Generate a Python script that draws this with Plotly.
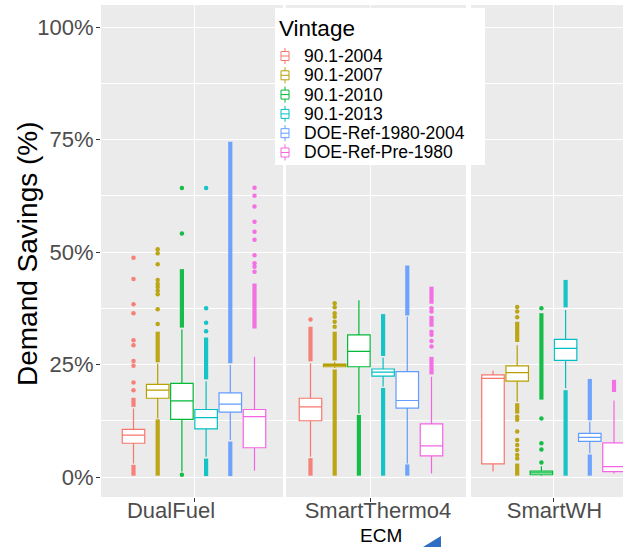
import plotly.graph_objects as go

W, H = 623, 547

vintages = ["90.1-2004", "90.1-2007", "90.1-2010", "90.1-2013",
            "DOE-Ref-1980-2004", "DOE-Ref-Pre-1980"]
colors = ["#F8766D", "#B79F00", "#00BA38", "#00BFC4", "#619CFF", "#F564E3"]
ecms = ["DualFuel", "SmartThermo4", "SmartWH"]

# box statistics (demand savings, %) per ECM, ordered by vintage
lower_whisker = {
    "DualFuel":     [3.0, 13.0, 1.2, 4.5, 8.2, 1.4],
    "SmartThermo4": [4.5, 24.2, 14.1, 20.1, 3.0, 0.8],
    "SmartWH":      [1.2, 16.7, 0.3, 19.7, 5.3, 0.8],
}
q1 = {
    "DualFuel":     [7.5, 17.5, 12.8, 10.7, 14.4, 6.5],
    "SmartThermo4": [12.5, 24.5, 24.5, 22.4, 15.3, 4.7],
    "SmartWH":      [2.9, 21.3, 0.5, 25.9, 7.9, 1.2],
}
median = {
    "DualFuel":     [9.3, 19.3, 16.9, 13.2, 16.2, 13.4],
    "SmartThermo4": [15.6, 24.8, 27.9, 23.3, 17.0, 6.9],
    "SmartWH":      [21.9, 23.2, 0.9, 28.6, 8.8, 2.3],
}
q3 = {
    "DualFuel":     [10.6, 20.6, 20.8, 15.0, 18.7, 15.0],
    "SmartThermo4": [17.5, 25.1, 31.6, 24.0, 23.4, 11.8],
    "SmartWH":      [22.7, 24.7, 1.3, 30.6, 9.7, 7.6],
}
upper_whisker = {
    "DualFuel":     [15.2, 25.2, 32.8, 21.3, 24.9, 26.7],
    "SmartThermo4": [25.3, 25.6, 39.3, 26.5, 35.6, 22.3],
    "SmartWH":      [23.6, 29.3, 2.4, 37.1, 12.3, 17.0],
}

# dense runs of outliers (low, high) that read as solid columns
outlier_runs = {
    "DualFuel": [
        [[0.3, 2.7], [15.6, 17.6]],
        [[0.3, 12.8], [25.5, 32.3]],
        [[33.2, 46.2]],
        [[0.2, 4.1], [21.7, 31.0]],
        [[0.2, 7.9], [25.3, 74.5]],
        [[33.0, 43.0]],
    ],
    "SmartThermo4": [
        [[0.3, 4.2], [25.7, 33.4]],
        [[0.3, 23.9], [25.9, 32.3]],
        [[0.3, 13.8]],
        [[0.3, 19.8], [26.9, 36.2]],
        [[0.3, 2.8], [35.9, 47.0]],
        [[22.8, 26.7], [33.4, 35.8], [38.5, 42.3]],
    ],
    "SmartWH": [
        [],
        [[0.3, 3.0], [14.1, 16.4], [30.0, 34.5]],
        [[17.2, 36.4]],
        [[0.3, 19.3], [37.7, 43.8]],
        [[0.3, 5.0], [12.6, 21.8]],
        [[18.9, 21.6]],
    ],
}
# isolated outliers
outlier_points = {
    "DualFuel": [
        [19.3, 21.0, 24.7, 25.8, 29.3, 30.4, 36.4, 38.4, 44.0, 48.7],
        [34.0, 37.3, 40.6, 41.4, 42.2, 42.9, 43.8, 47.3, 49.7, 50.6],
        [0.5, 54.1, 64.2],
        [32.4, 34.3, 37.5, 64.2],
        [],
        [45.6, 46.7, 47.5, 49.3, 52.7, 54.5, 56.7, 60.1, 62.5, 64.3],
    ],
    "SmartThermo4": [
        [35.0],
        [33.4, 34.5, 35.6, 36.4, 37.7, 38.6],
        [],
        [],
        [],
        [29.0, 30.2, 31.6, 32.3, 36.8, 37.5],
    ],
    "SmartWH": [
        [],
        [4.1, 4.9, 6.0, 7.1, 8.2, 10.1, 12.7, 13.4, 35.5, 36.8, 37.8],
        [3.2, 6.1, 7.5, 13.0, 37.5],
        [],
        [],
        [],
    ],
}

y_ticks = [0, 25, 50, 75, 100]
y_tick_labels = ["0%", "25%", "50%", "75%", "100%"]

FONT = "Liberation Sans, Arial, sans-serif"


def px(x):
    return x / W


def py(y):
    return 1 - y / H


# facet panels: pixel extents and x ranges (vintage index 0..5 per facet)
panels = [
    dict(x0=101, x1=283, rng=[-1.343, 6.178], shift=-23),
    dict(x0=286, x1=466, rng=[-1.012, 6.426], shift=7),
    dict(x0=471, x1=623, rng=[-0.909, 5.372], shift=1),
]
ydom = [py(497), py(5)]
yrange = [-4.44, 104.89]

fig = go.Figure()

for k, ecm in enumerate(ecms):
    xa = "x" if k == 0 else f"x{k+1}"
    ya = "y" if k == 0 else f"y{k+1}"
    for i, v in enumerate(vintages):
        c = colors[i]
        xs, ys = [], []
        for lo, hi in outlier_runs[ecm][i]:
            xs += [i, i, None]
            ys += [lo, hi, None]
        if xs:
            fig.add_trace(go.Scatter(x=xs, y=ys, mode="lines",
                                     line=dict(color=c, width=4.2),
                                     opacity=0.9, xaxis=xa, yaxis=ya,
                                     showlegend=False, hoverinfo="skip"))
        pts = outlier_points[ecm][i]
        if pts:
            fig.add_trace(go.Scatter(x=[i] * len(pts), y=pts, mode="markers",
                                     marker=dict(color=c, size=4.5, line=dict(width=0)),
                                     opacity=0.9, xaxis=xa, yaxis=ya,
                                     showlegend=False, hoverinfo="skip"))
        fig.add_trace(go.Box(
            x=[i], q1=[q1[ecm][i]], median=[median[ecm][i]], q3=[q3[ecm][i]],
            lowerfence=[lower_whisker[ecm][i]], upperfence=[upper_whisker[ecm][i]],
            width=0.93, fillcolor="white", line=dict(color=c, width=1.2),
            whiskerwidth=0, boxpoints=False, name=v,
            xaxis=xa, yaxis=ya, showlegend=False))

layout = dict(
    width=W, height=H,
    margin=dict(l=0, r=0, t=0, b=0),
    paper_bgcolor="white", plot_bgcolor="#EBEBEB",
    font=dict(family=FONT, color="#4D4D4D"),
    showlegend=False,
)

for k, ecm in enumerate(ecms):
    p = panels[k]
    xkey = "xaxis" if k == 0 else f"xaxis{k+1}"
    ykey = "yaxis" if k == 0 else f"yaxis{k+1}"
    ya = "y" if k == 0 else f"y{k+1}"
    xa = "x" if k == 0 else f"x{k+1}"
    layout[xkey] = dict(
        domain=[px(p["x0"]), px(p["x1"])], range=p["rng"], anchor=ya,
        tickmode="array", tickvals=[2.5], ticktext=[ecm],
        ticks="outside", ticklen=4, tickwidth=1, tickcolor="#333333",
        tickfont=dict(size=22, color="#4D4D4D", family=FONT),
        ticklabelshift=p["shift"], ticklabelstandoff=-10,
        showgrid=True, gridcolor="white", gridwidth=1.1,
        zeroline=False, showline=False, fixedrange=True,
    )
    layout[ykey] = dict(
        domain=ydom, range=yrange, anchor=xa,
        tickmode="array", tickvals=y_ticks, ticktext=y_tick_labels,
        showticklabels=(k == 0), ticks="outside" if k == 0 else "",
        ticklen=4, tickwidth=1, tickcolor="#333333",
        tickfont=dict(size=22, color="#4D4D4D", family=FONT),
        ticklabelstandoff=-2,
        showgrid=True, gridcolor="white", gridwidth=1.1,
        minor=dict(tickmode="array", tickvals=[12.5, 37.5, 62.5, 87.5],
                   showgrid=True, gridcolor="white", gridwidth=0.55),
        zeroline=False, showline=False, fixedrange=True,
    )
    if k > 0:
        layout[ykey]["matches"] = "y"

shapes = []
annotations = []

# legend (drawn in pixel space)
shapes.append(dict(type="rect", xref="paper", yref="paper",
                   x0=px(275), x1=px(485), y0=py(165), y1=py(8),
                   fillcolor="white", line=dict(width=0), layer="above"))
annotations.append(dict(text="Vintage", xref="paper", yref="paper",
                        x=px(277), y=py(29), xanchor="left", yanchor="middle",
                        showarrow=False, font=dict(size=22.5, color="black", family=FONT)))
leg_y = [56, 75.3, 94.6, 113.9, 133.2, 152.5]
for i, v in enumerate(vintages):
    yc = leg_y[i]
    c = colors[i]
    shapes.append(dict(type="line", xref="paper", yref="paper",
                       x0=px(285), x1=px(285), y0=py(yc + 8), y1=py(yc - 8),
                       line=dict(color=c, width=1), layer="above"))
    shapes.append(dict(type="rect", xref="paper", yref="paper",
                       x0=px(281), x1=px(289), y0=py(yc + 4.5), y1=py(yc - 4.5),
                       fillcolor="white", line=dict(color=c, width=1), layer="above"))
    shapes.append(dict(type="line", xref="paper", yref="paper",
                       x0=px(281), x1=px(289), y0=py(yc), y1=py(yc),
                       line=dict(color=c, width=1), layer="above"))
    annotations.append(dict(text=v, xref="paper", yref="paper",
                            x=px(302), y=py(yc), xanchor="left", yanchor="middle",
                            showarrow=False, font=dict(size=17.5, color="black", family=FONT)))

# axis titles
annotations.append(dict(text="Demand Savings (%)", xref="paper", yref="paper",
                        x=px(28), y=py(254), xanchor="center", yanchor="middle",
                        textangle=-90, showarrow=False,
                        font=dict(size=28, color="black", family=FONT)))
annotations.append(dict(text="ECM", xref="paper", yref="paper",
                        x=px(381), y=py(535.5), xanchor="center", yanchor="middle",
                        showarrow=False, font=dict(size=19, color="black", family=FONT)))

# small blue pointer glyph at the bottom
tri = f"M {px(423)} {py(547)} L {px(441)} {py(536)} L {px(441)} {py(547)} Z"
shapes.append(dict(type="path", xref="paper", yref="paper", path=tri,
                   fillcolor="#2F6EC2", line=dict(width=0), layer="above"))

layout["shapes"] = shapes
layout["annotations"] = annotations
fig.update_layout(**layout)

fig.write_html("out.html")
